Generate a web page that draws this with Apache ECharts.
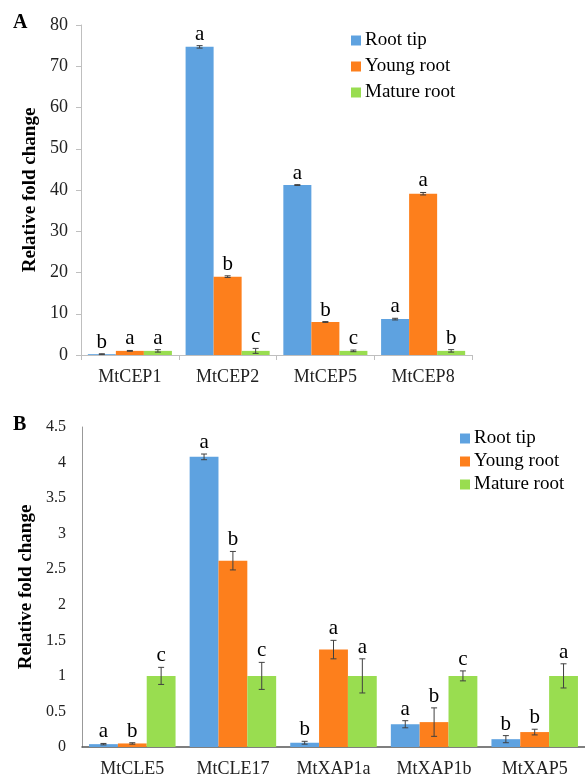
<!DOCTYPE html>
<html>
<head>
<meta charset="utf-8">
<script src="https://cdn.jsdelivr.net/npm/echarts/dist/echarts.min.js"></script>
<style>
html, body { margin: 0; padding: 0; background: #fff; }
#main { width: 585px; height: 778px; }
</style>
</head>
<body>
<div id="main"></div>
<script>
var names = ['Root tip', 'Young root', 'Mature root'];
var colors = ['#5EA2E0', '#FD7F1C', '#99DD50'];

// panel A
var catsA = ['MtCEP1', 'MtCEP2', 'MtCEP5', 'MtCEP8'];
var tipA = [0.2, 74.7, 41.2, 8.7];
var youngA = [1.0, 19.0, 8.0, 39.1];
var matureA = [1.0, 1.0, 1.0, 1.0];
var tipErrA = [0.1, 0.3, 0.1, 0.2];
var youngErrA = [0.1, 0.2, 0.1, 0.3];
var matureErrA = [0.3, 0.6, 0.2, 0.3];
var tipLetA = ['b', 'a', 'a', 'a'];
var youngLetA = ['a', 'b', 'b', 'a'];
var matureLetA = ['a', 'c', 'c', 'b'];

// panel B
var catsB = ['MtCLE5', 'MtCLE17', 'MtXAP1a', 'MtXAP1b', 'MtXAP5'];
var tipB = [0.04, 4.08, 0.06, 0.32, 0.11];
var youngB = [0.05, 2.62, 1.37, 0.35, 0.21];
var matureB = [1.0, 1.0, 1.0, 1.0, 1.0];
var tipErrB = [0.01, 0.04, 0.02, 0.05, 0.05];
var youngErrB = [0.01, 0.13, 0.13, 0.2, 0.04];
var matureErrB = [0.12, 0.19, 0.24, 0.07, 0.17];
var tipLetB = ['a', 'a', 'b', 'a', 'b'];
var youngLetB = ['b', 'b', 'a', 'b', 'b'];
var matureLetB = ['c', 'c', 'a', 'c', 'a'];

var serif = 'Liberation Serif';
var gapPct = 0.14;

var myChart = echarts.init(document.getElementById('main'));

function barSeries(k, data, axis) {
	return {
		type: 'bar',
		name: names[k],
		data: data,
		xAxisIndex: axis,
		yAxisIndex: axis,
		barGap: '0%',
		barCategoryGap: (gapPct * 100) + '%',
		itemStyle: { color: colors[k] },
		animation: false
	};
}

//误差线 + 字母
function errSeries(k, vals, errs, letters, axis) {
	return {
		type: 'custom',
		xAxisIndex: axis,
		yAxisIndex: axis,
		encode: { x: 0, y: 1 },
		data: vals.map(function(v, i) { return [i, v, errs[i]]; }),
		z: 10,
		animation: false,
		renderItem: function(params, api) {
			var cat = api.value(0), v = api.value(1), e = api.value(2);
			var band = api.size([1, 0])[0];
			var bw = band * (1 - gapPct) / 3;
			var x = api.coord([cat, v])[0] + (k - 1) * bw;
			var yt = api.coord([cat, v + e])[1];
			var yb = api.coord([cat, Math.max(v - e, 0)])[1];
			var st = { stroke: '#404040', lineWidth: 1 };
			return {
				type: 'group',
				children: [
					{ type: 'line', shape: { x1: x, y1: yt, x2: x, y2: yb }, style: st },
					{ type: 'line', shape: { x1: x - 3, y1: yt, x2: x + 3, y2: yt }, style: st },
					{ type: 'line', shape: { x1: x - 3, y1: yb, x2: x + 3, y2: yb }, style: st },
					{
						type: 'text',
						style: {
							x: x, y: yt - 1,
							text: letters[params.dataIndex],
							fill: '#000',
							font: '21px "' + serif + '"',
							textAlign: 'center',
							textVerticalAlign: 'bottom'
						}
					}
				]
			};
		}
	};
}

var legendBase = {
	data: names,
	orient: 'vertical',
	icon: 'rect',
	itemWidth: 10,
	itemHeight: 10,
	padding: 0,
	itemGap: 7,
	textStyle: { fontFamily: serif, fontSize: 19, color: '#000', padding: [0, 0, 0, -1] }
};

var option = {
	backgroundColor: '#fff',
	animation: false,
	color: colors,
	textStyle: { fontFamily: serif },
	legend: [
		Object.assign({}, legendBase, { left: 351, top: 31 }),
		Object.assign({}, legendBase, { left: 460, top: 429, itemGap: 4 })
	],
	graphic: [
		{ type: 'text', left: 13, top: 13, style: { text: 'A', font: 'bold 20px "' + serif + '"', fill: '#000' } },
		{ type: 'text', left: 13, top: 415, style: { text: 'B', font: 'bold 20px "' + serif + '"', fill: '#000' } }
	],
	grid: [
		{ left: 81, top: 25, width: 391, height: 330 },
		{ left: 82, top: 427, width: 505, height: 320 }
	],
	xAxis: [
		{
			type: 'category', gridIndex: 0, data: catsA,
			axisLine: { lineStyle: { color: '#bfbfbf' } },
			axisTick: { show: true, length: 5, lineStyle: { color: '#bfbfbf' } },
			axisLabel: { fontFamily: serif, fontSize: 18, color: '#222', margin: 13 }
		},
		{
			type: 'category', gridIndex: 1, data: catsB,
			axisLine: { lineStyle: { color: '#555', width: 1.5 } },
			axisTick: { show: false },
			axisLabel: { fontFamily: serif, fontSize: 18, color: '#222', margin: 13 }
		}
	],
	yAxis: [
		{
			type: 'value', gridIndex: 0, min: 0, max: 80, interval: 10,
			name: 'Relative fold change', nameLocation: 'middle', nameGap: 39,
			nameTextStyle: { fontFamily: serif, fontSize: 19, fontWeight: 'bold', color: '#000' },
			axisLine: { show: true, lineStyle: { color: '#bfbfbf' } },
			axisTick: { show: true, length: 5, lineStyle: { color: '#bfbfbf' } },
			axisLabel: { fontFamily: serif, fontSize: 18, color: '#222', margin: 13 },
			splitLine: { show: false }
		},
		{
			type: 'value', gridIndex: 1, min: 0, max: 4.5, interval: 0.5,
			name: 'Relative fold change', nameLocation: 'middle', nameGap: 40,
			nameTextStyle: { fontFamily: serif, fontSize: 19, fontWeight: 'bold', color: '#000' },
			axisLine: { show: true, lineStyle: { color: '#999' } },
			axisTick: { show: false },
			axisLabel: { fontFamily: serif, fontSize: 16, color: '#222', margin: 16 },
			splitLine: { show: false }
		}
	],
	series: [
		barSeries(0, tipA, 0),
		barSeries(1, youngA, 0),
		barSeries(2, matureA, 0),
		errSeries(0, tipA, tipErrA, tipLetA, 0),
		errSeries(1, youngA, youngErrA, youngLetA, 0),
		errSeries(2, matureA, matureErrA, matureLetA, 0),
		barSeries(0, tipB, 1),
		barSeries(1, youngB, 1),
		barSeries(2, matureB, 1),
		errSeries(0, tipB, tipErrB, tipLetB, 1),
		errSeries(1, youngB, youngErrB, youngLetB, 1),
		errSeries(2, matureB, matureErrB, matureLetB, 1)
	]
};

myChart.setOption(option);
</script>
</body>
</html>
